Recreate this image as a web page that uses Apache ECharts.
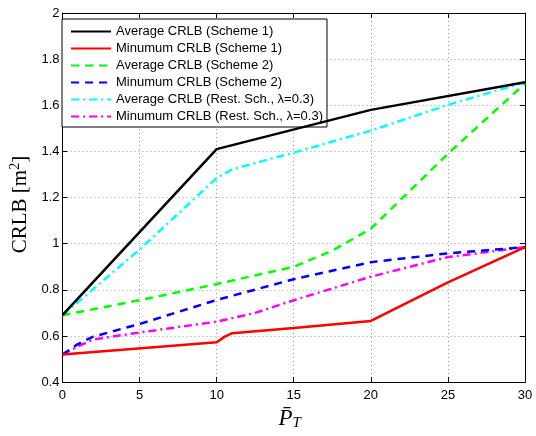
<!DOCTYPE html>
<html><head><meta charset="utf-8">
<script src="https://cdn.jsdelivr.net/npm/echarts@6/dist/echarts.min.js"></script>
<style>html,body{margin:0;padding:0;background:#fff}#c{width:536px;height:436px}</style>
</head><body><div id="c"></div>
<script>
const seriesNames = [
  'Average CRLB (Scheme 1)',
  'Minumum CRLB (Scheme 1)',
  'Average CRLB (Scheme 2)',
  'Minumum CRLB (Scheme 2)',
  'Average CRLB (Rest. Sch., \u03bb=0.3)',
  'Minumum CRLB (Rest. Sch., \u03bb=0.3)'
];
const avg1X = [0, 10, 20, 30];
const avg1Y = [0.69, 1.41, 1.58, 1.70];
const min1X = [0, 10, 10.5, 11, 15, 20, 25, 30];
const min1Y = [0.52, 0.573, 0.596, 0.612, 0.635, 0.665, 0.832, 0.985];
const avg2X = [0, 5, 10, 15, 17.5, 20, 25, 30];
const avg2Y = [0.69, 0.755, 0.825, 0.90, 0.97, 1.065, 1.39, 1.695];
const min2X = [0, 1, 2, 5, 10, 15, 20, 25, 30];
const min2Y = [0.52, 0.565, 0.597, 0.652, 0.756, 0.846, 0.92, 0.958, 0.985];
const avgRX = [0, 5, 10, 11, 15, 20, 25, 30];
const avgRY = [0.69, 0.975, 1.285, 1.322, 1.395, 1.49, 1.602, 1.70];
const minRX = [0, 1, 2, 5, 10, 12.5, 15, 20, 25, 30];
const minRY = [0.52, 0.555, 0.585, 0.615, 0.662, 0.70, 0.755, 0.857, 0.942, 0.985];
const xTicks = [0, 5, 10, 15, 20, 25, 30];
const yTicks = [0.4, 0.6, 0.8, 1.0, 1.2, 1.4, 1.6, 1.8, 2.0];

const colors = ['#000000', '#ff0000', '#00ff00', '#0000ff', '#00ffff', '#ff00ff'];
const dashes = ['solid', 'solid', [8, 6], [8, 6], [8, 4, 2, 4], [8, 4, 2, 4]];
const xs = [avg1X, min1X, avg2X, min2X, avgRX, minRX];
const ys = [avg1Y, min1Y, avg2Y, min2Y, avgRY, minRY];

const chart = echarts.init(document.getElementById('c'), null, {renderer: 'canvas'});
const font = 'Liberation Sans, Arial, sans-serif';
const serif = 'Liberation Serif, Times New Roman, serif';
const baseAxis = {
  axisLine: {show: true, onZero: false, lineStyle: {color: '#000', width: 1}},
  axisTick: {show: true, inside: true, length: 5, lineStyle: {color: '#000'}},
};
const option = {
  animation: false,
  backgroundColor: '#fff',
  grid: {left: 56, right: 11, top: 13, bottom: 39, show: false},
  legend: {
    orient: 'vertical', left: 62, top: 19,
    padding: [6, 4, 4, 8],
    itemWidth: 40, itemHeight: 12, itemGap: 4,
    backgroundColor: '#fff', borderColor: '#000', borderWidth: 1,
    itemStyle: {opacity: 0},
    textStyle: {fontFamily: font, fontSize: 13, color: '#000'},
    data: seriesNames
  },
  xAxis: [
    Object.assign({}, baseAxis, {
      type: 'value', min: xTicks[0], max: xTicks[xTicks.length - 1], interval: 5,
      axisLabel: {fontFamily: font, fontSize: 13, color: '#000', margin: 7},
      splitLine: {show: true, lineStyle: {color: '#999', type: [1, 3]}},
      name: '{p|P\u0304}{s|T}', nameLocation: 'middle', nameGap: 16,
      nameTextStyle: {padding: [0, 8, 0, 0], rich: {
        p: {fontFamily: serif, fontStyle: 'italic', fontSize: 23, color: '#000'},
        s: {fontFamily: serif, fontStyle: 'italic', fontSize: 15, color: '#000', padding: [10, 0, 0, 0]}
      }}
    }),
    Object.assign({}, baseAxis, {
      type: 'value', position: 'top', min: xTicks[0], max: xTicks[xTicks.length - 1], interval: 5,
      axisLabel: {show: false}, splitLine: {show: false}
    })
  ],
  yAxis: [
    Object.assign({}, baseAxis, {
      type: 'value', min: yTicks[0], max: yTicks[yTicks.length - 1], interval: 0.2,
      axisLabel: {fontFamily: font, fontSize: 13, color: '#000', margin: 3,
        formatter: v => String(Math.round(v * 10) / 10)},
      splitLine: {show: true, lineStyle: {color: '#999', type: [1, 3]}},
      name: '{t|CRLB [m}{sup|2}{t|]}', nameLocation: 'middle', nameGap: 22,
      nameTextStyle: {padding: [0, 14, 0, 0], rich: {
        t: {fontFamily: serif, fontSize: 21, color: '#000'},
        sup: {fontFamily: serif, fontSize: 14, color: '#000', padding: [0, 0, 10, 0]}
      }}
    }),
    Object.assign({}, baseAxis, {
      type: 'value', position: 'right', min: yTicks[0], max: yTicks[yTicks.length - 1], interval: 0.2,
      axisLabel: {show: false}, splitLine: {show: false}
    })
  ],
  series: seriesNames.map((n, i) => ({
    name: n, type: 'line', symbol: 'none', xAxisIndex: 0, yAxisIndex: 0,
    data: xs[i].map((x, j) => [x, ys[i][j]]),
    lineStyle: {color: colors[i], width: 2.5, type: dashes[i]},
    itemStyle: {color: colors[i]},
    z: 10 - i
  }))
};
chart.setOption(option);
</script>
</body></html>
